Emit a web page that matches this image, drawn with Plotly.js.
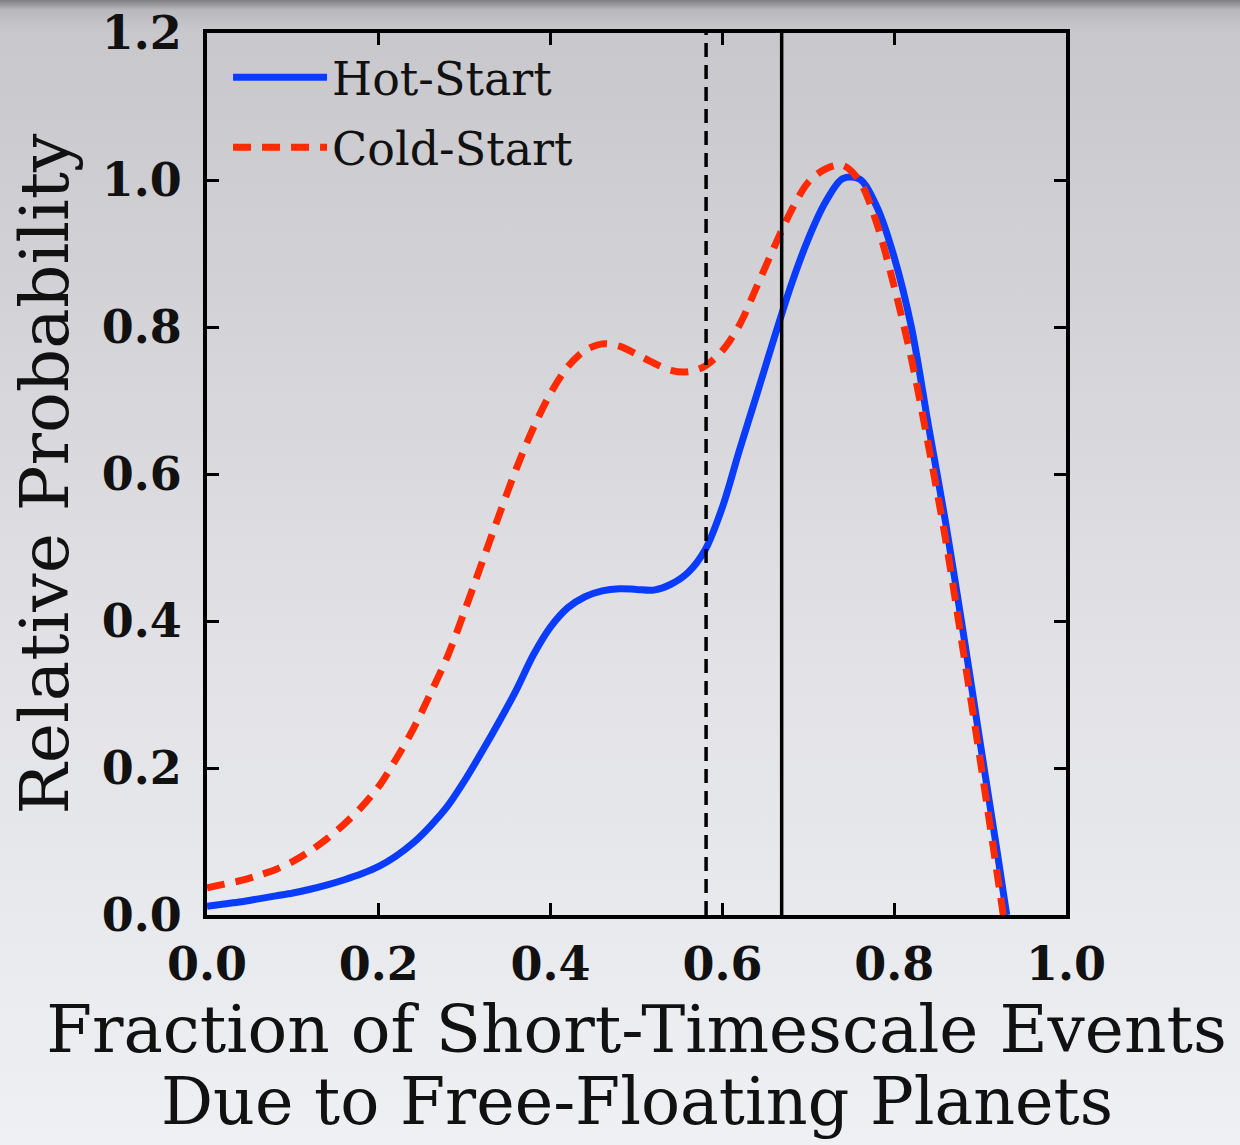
<!DOCTYPE html>
<html>
<head>
<meta charset="utf-8">
<script src="https://cdn.plot.ly/plotly-3.0.1.min.js"></script>
<style>
  html, body { margin: 0; padding: 0; }
  body {
    width: 1240px; height: 1145px; overflow: hidden;
    background: linear-gradient(to bottom, #7d7d82 0px, #b9b8bd 10px, #c8c7cc 30px, #d3d3d7 300px, #e2e2e6 650px, #eef0f4 1145px);
  }
  #chart { width: 1240px; height: 1145px; }
</style>
</head>
<body>
<div id="chart"></div>
<script>
// Fraction of short-timescale events due to free-floating planets
const hotX = [0.00, 0.02, 0.04, 0.06, 0.08, 0.10, 0.12, 0.14, 0.16, 0.18, 0.20, 0.22, 0.24, 0.26, 0.28, 0.30, 0.32, 0.34, 0.36, 0.38, 0.40, 0.42, 0.44, 0.46, 0.48, 0.50, 0.52, 0.54, 0.56, 0.58, 0.60, 0.62, 0.64, 0.66, 0.68, 0.70, 0.72, 0.74, 0.76, 0.78, 0.80, 0.82, 0.84, 0.86, 0.88, 0.90, 0.92, 0.931];
const hotY = [0.012, 0.015, 0.018, 0.022, 0.026, 0.030, 0.035, 0.041, 0.048, 0.056, 0.066, 0.080, 0.098, 0.121, 0.148, 0.183, 0.222, 0.263, 0.306, 0.354, 0.392, 0.418, 0.433, 0.441, 0.444, 0.443, 0.442, 0.450, 0.466, 0.497, 0.555, 0.633, 0.708, 0.784, 0.857, 0.920, 0.970, 1.002, 1.001, 0.963, 0.895, 0.800, 0.665, 0.533, 0.387, 0.235, 0.085, 0.0];

const coldX = [0.00, 0.02, 0.04, 0.06, 0.08, 0.10, 0.12, 0.14, 0.16, 0.18, 0.20, 0.22, 0.24, 0.26, 0.28, 0.30, 0.32, 0.34, 0.36, 0.38, 0.40, 0.42, 0.44, 0.46, 0.48, 0.50, 0.52, 0.54, 0.56, 0.58, 0.60, 0.62, 0.64, 0.66, 0.68, 0.70, 0.72, 0.74, 0.76, 0.78, 0.80, 0.82, 0.84, 0.86, 0.88, 0.90, 0.927];
const coldY = [0.037, 0.042, 0.047, 0.054, 0.062, 0.073, 0.087, 0.104, 0.124, 0.147, 0.175, 0.212, 0.253, 0.301, 0.352, 0.414, 0.479, 0.544, 0.607, 0.663, 0.710, 0.746, 0.768, 0.777, 0.774, 0.763, 0.751, 0.741, 0.739, 0.747, 0.768, 0.803, 0.855, 0.908, 0.958, 0.997, 1.015, 1.020, 0.998, 0.940, 0.855, 0.757, 0.638, 0.510, 0.362, 0.212, 0.0];

const seriesNames = ["Hot-Start", "Cold-Start"];
const refLineDashedX = 0.581;
const refLineSolidX = 0.669;

const yTickVals = [0.0, 0.2, 0.4, 0.6, 0.8, 1.0, 1.2];
const yTickLabels = ["0.0", "0.2", "0.4", "0.6", "0.8", "1.0", "1.2"];
const xTickVals = [0.0, 0.2, 0.4, 0.6, 0.8, 1.0];
const xTickLabels = ["0.0", "0.2", "0.4", "0.6", "0.8", "1.0"];

const xTitleLine1 = "Fraction of Short-Timescale Events";
const xTitleLine2 = "Due to Free-Floating Planets";
const yTitle = "Relative Probability";

const serif = "DejaVu Serif, Liberation Serif, serif";

const traces = [
  {
    x: hotX, y: hotY, name: seriesNames[0], legendgroup: "hot", type: "scatter", mode: "lines",
    line: { color: "#0a3cff", width: 7, shape: "spline", smoothing: 0.9 }
  },
  {
    x: coldX, y: coldY, name: seriesNames[1], legendgroup: "cold", type: "scatter", mode: "lines",
    line: { color: "#ff2a00", width: 7, dash: "18px,11px", shape: "spline", smoothing: 0.9 }
  }
];

const layout = {
  width: 1240, height: 1145,
  margin: { l: 207, r: 174, t: 33, b: 230 },
  paper_bgcolor: "rgba(0,0,0,0)",
  plot_bgcolor: "rgba(0,0,0,0)",
  showlegend: true,
  legend: {
    x: 0.0245, y: 0.991, xanchor: "left", yanchor: "top",
    bgcolor: "rgba(0,0,0,0)",
    font: { family: serif, size: 46, color: "#111" },
    itemwidth: 94,
    traceorder: "grouped",
    tracegroupgap: 7
  },
  xaxis: {
    range: [0, 1], tickmode: "array", tickvals: xTickVals, ticktext: xTickLabels,
    ticks: "inside", ticklen: 12, tickwidth: 3, tickcolor: "#000",
    showline: true, linecolor: "#000", linewidth: 4, mirror: "ticks",
    showgrid: false, zeroline: false,
    ticklabelstandoff: 6,
    tickfont: { family: serif, size: 46, color: "#111", weight: "bold" },
    title: {
      text: xTitleLine1,
      font: { family: serif, size: 66, color: "#111" },
      standoff: 16
    }
  },
  yaxis: {
    range: [0, 1.2], tickmode: "array", tickvals: yTickVals, ticktext: yTickLabels,
    ticks: "inside", ticklen: 12, tickwidth: 3, tickcolor: "#000",
    showline: true, linecolor: "#000", linewidth: 4, mirror: "ticks",
    showgrid: false, zeroline: false,
    ticklabelstandoff: 12,
    tickfont: { family: serif, size: 46, color: "#111", weight: "bold" },
    title: {
      text: yTitle,
      font: { family: serif, size: 68, color: "#111" },
      standoff: 12
    }
  },
  annotations: [
    { text: xTitleLine2, xref: "paper", yref: "paper", x: 0.5, y: -0.211,
      xanchor: "center", yanchor: "middle", showarrow: false,
      font: { family: serif, size: 65, color: "#111" } }
  ],
  shapes: [
    { type: "line", xref: "x", yref: "paper", x0: refLineDashedX, x1: refLineDashedX, y0: 0, y1: 1,
      line: { color: "#000", width: 3.5, dash: "14px,8px" } },
    { type: "line", xref: "x", yref: "paper", x0: refLineSolidX, x1: refLineSolidX, y0: 0, y1: 1,
      line: { color: "#000", width: 3.5 } }
  ]
};

Plotly.newPlot("chart", traces, layout, { displayModeBar: false, staticPlot: true });
</script>
</body>
</html>
